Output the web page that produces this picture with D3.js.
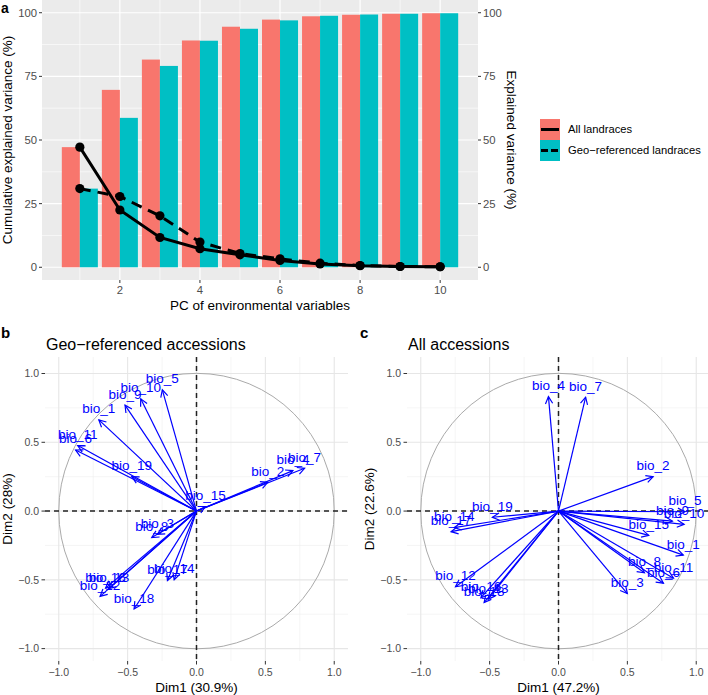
<!DOCTYPE html>
<html>
<head>
<meta charset="utf-8">
<script src="https://cdn.jsdelivr.net/npm/d3@7"></script>
<style>
  body { margin: 0; background: #fff; }
  text { font-family: "Liberation Sans", Arial, sans-serif; }
</style>
</head>
<body>
<svg id="chart" width="708" height="695"></svg>
<script>
// ---- panel a data ----
const pcs = [1, 2, 3, 4, 5, 6, 7, 8, 9, 10];
const cumAll = [47.2, 69.7, 81.6, 89.1, 94.5, 97.3, 98.6, 99.2, 99.6, 99.8];
const cumGeo = [30.9, 58.7, 79.1, 89.0, 93.7, 97.0, 98.8, 99.3, 99.6, 99.8];
const varAll = [47.2, 22.5, 11.7, 7.3, 4.9, 2.7, 1.3, 0.6, 0.3, 0.2];
const varGeo = [30.9, 27.8, 20.2, 9.9, 5.4, 3.3, 1.6, 0.7, 0.3, 0.2];
const yTicksA = [0, 25, 50, 75, 100];
const xTicksA = [2, 4, 6, 8, 10];
const legendLabels = ["All landraces", "Geo\u2212referenced landraces"];

// ---- panels b & c data ----
const bioNames = ["bio_1", "bio_2", "bio_3", "bio_4", "bio_5", "bio_6", "bio_7", "bio_8", "bio_9", "bio_10",
                  "bio_11", "bio_12", "bio_13", "bio_14", "bio_15", "bio_16", "bio_17", "bio_18", "bio_19"];
const geoDim1 = [-0.709, 0.517, -0.284, 0.700, -0.248, -0.878, 0.785, -0.325, -0.519, -0.405,
                 -0.862, -0.700, -0.636, -0.162, 0.065, -0.660, -0.211, -0.453, -0.470];
const geoDim2 = [0.663, 0.209, -0.169, 0.294, 0.881, 0.444, 0.311, -0.192, 0.770, 0.816,
                 0.476, -0.620, -0.563, -0.500, 0.033, -0.560, -0.505, -0.712, 0.250];
const allDim1 = [0.906, 0.687, 0.500, -0.073, 0.918, 0.762, 0.197, 0.624, 0.827, 0.912,
                 0.835, -0.748, -0.510, -0.757, 0.655, -0.563, -0.780, -0.540, -0.480];
const allDim2 = [-0.320, 0.250, -0.600, 0.832, -0.005, -0.524, 0.828, -0.449, -0.073, -0.097,
                 -0.488, -0.550, -0.640, -0.120, -0.177, -0.630, -0.150, -0.665, -0.045];
const pcaTicks = [-1, -0.5, 0, 0.5, 1];
const pcaMinor = [-0.75, -0.25, 0.25, 0.75];

const svg = d3.select("#chart");
const red = "#F8766D", cyan = "#00BFC4";
const fmtMinus = d => d3.format(".1f")(d).replace("-", "\u2212");

// ================= panel a =================
const xA = d3.scaleLinear().domain([0.055, 10.945]).range([42, 478]);
const yA = d3.scaleLinear().domain([-5, 105]).range([280, 0]);
const ga = svg.append("g");

ga.append("rect").attr("x", xA.range()[0]).attr("y", 0)
  .attr("width", xA.range()[1] - xA.range()[0]).attr("height", 280).attr("fill", "#ebebeb");

// grid
[12.5, 37.5, 62.5, 87.5].forEach(v => ga.append("line").attr("x1", 42).attr("x2", 478)
  .attr("y1", yA(v)).attr("y2", yA(v)).attr("stroke", "#fff").attr("stroke-width", 0.6));
[1, 3, 5, 7, 9].forEach(v => ga.append("line").attr("y1", 0).attr("y2", 280)
  .attr("x1", xA(v)).attr("x2", xA(v)).attr("stroke", "#fff").attr("stroke-width", 0.6));
yTicksA.forEach(v => ga.append("line").attr("x1", 42).attr("x2", 478)
  .attr("y1", yA(v)).attr("y2", yA(v)).attr("stroke", "#fff").attr("stroke-width", 1.2));
xTicksA.forEach(v => ga.append("line").attr("y1", 0).attr("y2", 280)
  .attr("x1", xA(v)).attr("x2", xA(v)).attr("stroke", "#fff").attr("stroke-width", 1.2));

// bars
ga.selectAll(".barAll").data(pcs).join("rect")
  .attr("x", d => xA(d - 0.45)).attr("width", d => xA(d) - xA(d - 0.45))
  .attr("y", (d, i) => yA(cumAll[i])).attr("height", (d, i) => yA(0) - yA(cumAll[i]))
  .attr("fill", red);
ga.selectAll(".barGeo").data(pcs).join("rect")
  .attr("x", d => xA(d)).attr("width", d => xA(d + 0.45) - xA(d))
  .attr("y", (d, i) => yA(cumGeo[i])).attr("height", (d, i) => yA(0) - yA(cumGeo[i]))
  .attr("fill", cyan);

// lines
const lineA = d3.line().x(d => xA(d[0])).y(d => yA(d[1]));
ga.append("path").datum(pcs.map((p, i) => [p, varGeo[i]])).attr("d", lineA)
  .attr("fill", "none").attr("stroke", "#000").attr("stroke-width", 3).attr("stroke-dasharray", "11,7");
ga.append("path").datum(pcs.map((p, i) => [p, varAll[i]])).attr("d", lineA)
  .attr("fill", "none").attr("stroke", "#000").attr("stroke-width", 3);
ga.selectAll(".ptGeo").data(pcs).join("circle")
  .attr("cx", d => xA(d)).attr("cy", (d, i) => yA(varGeo[i])).attr("r", 4.6).attr("fill", "#000");
ga.selectAll(".ptAll").data(pcs).join("circle")
  .attr("cx", d => xA(d)).attr("cy", (d, i) => yA(varAll[i])).attr("r", 4.6).attr("fill", "#000");

// axes
const axisA = ga.append("g");
yTicksA.forEach(v => {
  axisA.append("line").attr("x1", 39).attr("x2", 42).attr("y1", yA(v)).attr("y2", yA(v)).attr("stroke", "#333");
  axisA.append("text").attr("x", 37).attr("y", yA(v)).attr("dy", "0.35em").attr("text-anchor", "end")
    .attr("font-size", 11.3).attr("fill", "#4d4d4d").text(v);
  axisA.append("line").attr("x1", 478).attr("x2", 481).attr("y1", yA(v)).attr("y2", yA(v)).attr("stroke", "#333");
  axisA.append("text").attr("x", 483).attr("y", yA(v)).attr("dy", "0.35em").attr("text-anchor", "start")
    .attr("font-size", 11.3).attr("fill", "#4d4d4d").text(v);
});
xTicksA.forEach(v => {
  axisA.append("line").attr("x1", xA(v)).attr("x2", xA(v)).attr("y1", 280).attr("y2", 283).attr("stroke", "#333");
  axisA.append("text").attr("x", xA(v)).attr("y", 294).attr("text-anchor", "middle")
    .attr("font-size", 11.3).attr("fill", "#4d4d4d").text(v);
});
ga.append("text").attr("x", 260).attr("y", 310).attr("text-anchor", "middle")
  .attr("font-size", 13.5).text("PC of environmental variables");
ga.append("text").attr("transform", "translate(12,140) rotate(-90)").attr("text-anchor", "middle")
  .attr("font-size", 13.5).text("Cumulative explained variance (%)");
ga.append("text").attr("transform", "translate(507,140) rotate(90)").attr("text-anchor", "middle")
  .attr("font-size", 13.5).text("Explained variance (%)");
ga.append("text").attr("x", 1).attr("y", 13).attr("font-size", 14).attr("font-weight", "bold").text("a");

// legend
const leg = ga.append("g").attr("transform", "translate(540,119)");
legendLabels.forEach((lab, i) => {
  leg.append("rect").attr("x", 0).attr("y", i * 21).attr("width", 20).attr("height", 21)
    .attr("fill", i === 0 ? red : cyan);
  leg.append("line").attr("x1", 1).attr("x2", 19).attr("y1", i * 21 + 10.5).attr("y2", i * 21 + 10.5)
    .attr("stroke", "#000").attr("stroke-width", 3)
    .attr("stroke-dasharray", i === 0 ? null : "7,3");
  leg.append("text").attr("x", 28).attr("y", i * 21 + 10.5).attr("dy", "0.35em")
    .attr("font-size", 11.2).text(lab);
});

// ================= panels b & c =================
svg.append("defs").append("marker").attr("id", "arr")
  .attr("markerUnits", "userSpaceOnUse").attr("viewBox", "-10 -6 12 12")
  .attr("markerWidth", 12).attr("markerHeight", 12).attr("refX", 0).attr("refY", 0)
  .attr("orient", "auto")
  .append("path").attr("d", "M-7,-3.6 L0,0 L-7,3.6").attr("fill", "none")
  .attr("stroke", "#0000FF").attr("stroke-width", 1.2);

function drawPCA(opts) {
  const x = d3.scaleLinear().domain([-1.1, 1.1]).range([opts.left, opts.left + 303]);
  const y = d3.scaleLinear().domain([-1.09, 1.12]).range([661, 357]);
  const g = svg.append("g");
  const [x0, x1] = x.range(), [y0, y1] = [y(1.12), y(-1.09)];

  pcaMinor.forEach(v => {
    g.append("line").attr("x1", x0).attr("x2", x1).attr("y1", y(v)).attr("y2", y(v))
      .attr("stroke", "#efefef").attr("stroke-width", 0.6);
    g.append("line").attr("y1", y0).attr("y2", y1).attr("x1", x(v)).attr("x2", x(v))
      .attr("stroke", "#efefef").attr("stroke-width", 0.6);
  });
  pcaTicks.forEach(v => {
    g.append("line").attr("x1", x0).attr("x2", x1).attr("y1", y(v)).attr("y2", y(v))
      .attr("stroke", "#e6e6e6").attr("stroke-width", 1.1);
    g.append("line").attr("y1", y0).attr("y2", y1).attr("x1", x(v)).attr("x2", x(v))
      .attr("stroke", "#e6e6e6").attr("stroke-width", 1.1);
  });

  g.append("circle").attr("cx", x(0)).attr("cy", y(0)).attr("r", x(1) - x(0))
    .attr("fill", "none").attr("stroke", "#aaaaaa").attr("stroke-width", 1);

  g.append("line").attr("x1", x0).attr("x2", x1).attr("y1", y(0)).attr("y2", y(0))
    .attr("stroke", "#222").attr("stroke-width", 1.5).attr("stroke-dasharray", "5,4");
  g.append("line").attr("y1", y0).attr("y2", y1).attr("x1", x(0)).attr("x2", x(0))
    .attr("stroke", "#222").attr("stroke-width", 1.5).attr("stroke-dasharray", "5,4");

  g.selectAll(".arrow").data(bioNames).join("line")
    .attr("x1", x(0)).attr("y1", y(0))
    .attr("x2", (d, i) => x(opts.d1[i])).attr("y2", (d, i) => y(opts.d2[i]))
    .attr("stroke", "#0000FF").attr("stroke-width", 1.2).attr("marker-end", "url(#arr)");
  g.selectAll(".lab").data(bioNames).join("text")
    .attr("x", (d, i) => x(opts.d1[i])).attr("y", (d, i) => y(opts.d2[i]) - 6.5)
    .attr("text-anchor", "middle").attr("font-size", 13.5).attr("fill", "#0000FF").text(d => d);

  pcaTicks.forEach(v => {
    g.append("line").attr("x1", x0 - 3.5).attr("x2", x0).attr("y1", y(v)).attr("y2", y(v)).attr("stroke", "#333");
    g.append("text").attr("x", x0 - 6).attr("y", y(v)).attr("dy", "0.35em").attr("text-anchor", "end")
      .attr("font-size", 10.5).attr("fill", "#4d4d4d").text(fmtMinus(v));
    g.append("line").attr("x1", x(v)).attr("x2", x(v)).attr("y1", y1).attr("y2", y1 + 3.5).attr("stroke", "#333");
    g.append("text").attr("x", x(v)).attr("y", y1 + 15).attr("text-anchor", "middle")
      .attr("font-size", 10.5).attr("fill", "#4d4d4d").text(fmtMinus(v));
  });
  g.append("text").attr("x", (x0 + x1) / 2).attr("y", 692).attr("text-anchor", "middle")
    .attr("font-size", 13.5).text(opts.xTitle);
  g.append("text").attr("transform", `translate(${opts.left - 33},${(y0 + y1) / 2}) rotate(-90)`)
    .attr("text-anchor", "middle").attr("font-size", 13.5).text(opts.yTitle);
  g.append("text").attr("x", opts.left + 1).attr("y", 350).attr("font-size", 16).text(opts.title);
  g.append("text").attr("x", opts.tagX).attr("y", 338).attr("font-size", 15).attr("font-weight", "bold").text(opts.tag);
}

drawPCA({ left: 45, d1: geoDim1, d2: geoDim2, title: "Geo\u2212referenced accessions",
          xTitle: "Dim1 (30.9%)", yTitle: "Dim2 (28%)", tag: "b", tagX: 1 });
drawPCA({ left: 407, d1: allDim1, d2: allDim2, title: "All accessions",
          xTitle: "Dim1 (47.2%)", yTitle: "Dim2 (22.6%)", tag: "c", tagX: 360 });
</script>
</body>
</html>
